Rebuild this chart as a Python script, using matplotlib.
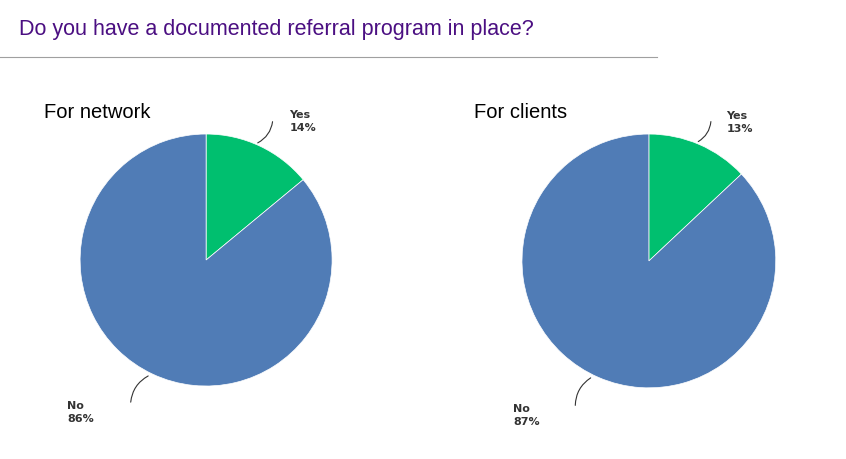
import matplotlib.pyplot as plt
from matplotlib.lines import Line2D

labels = ["Yes", "No"]
network_pct = [14, 86]
clients_pct = [13, 87]
colors = ["#00BF6F", "#507CB6"]

fig = plt.figure(figsize=(8.46, 4.59), dpi=100)
fig.text(0.022, 0.935, "Do you have a documented referral program in place?",
         fontsize=15.5, color="#4B0F82", va="center", family="Liberation Sans")
fig.add_artist(Line2D([0, 0.777], [0.876, 0.876], color="#A0A0A0", lw=0.8))


def draw(ax, values, title, title_xy, yes_xy, no_xy, yes_line, no_line):
    ax.pie(values, colors=colors, startangle=90, counterclock=False,
           wedgeprops=dict(edgecolor="white", linewidth=0.5))
    ax.set_xlim(-1, 1)
    ax.set_ylim(-1, 1)
    ax.set_aspect("equal")
    fig.text(title_xy[0], title_xy[1], title, fontsize=14.5,
             family="Liberation Sans", va="center")
    for lab, v, xy, ln in [(labels[0], values[0], yes_xy, yes_line),
                           (labels[1], values[1], no_xy, no_line)]:
        ax.text(xy[0], xy[1], f"{lab}\n{v}%", fontsize=8, fontweight="bold",
                color="#333333", va="center", ha="left", clip_on=False,
                linespacing=1.4)
        ax.annotate("", xy=ln[0], xytext=ln[1], annotation_clip=False,
                    arrowprops=dict(arrowstyle="-", color="#333333", lw=0.8,
                                    connectionstyle="arc3,rad=-0.3"))


ax1 = fig.add_axes([0.0946, 0.159, 0.298, 0.549])
draw(ax1, network_pct, "For network", (0.052, 0.754),
     (0.66, 1.10), (-1.10, -1.21),
     ((0.39, 0.92), (0.53, 1.12)), ((-0.44, -0.91), (-0.60, -1.15)))

ax2 = fig.add_axes([0.617, 0.155, 0.300, 0.553])
draw(ax2, clients_pct, "For clients", (0.560, 0.754),
     (0.61, 1.09), (-1.07, -1.22),
     ((0.37, 0.93), (0.49, 1.12)), ((-0.44, -0.91), (-0.58, -1.16)))

fig.savefig("out.png", dpi=100)
